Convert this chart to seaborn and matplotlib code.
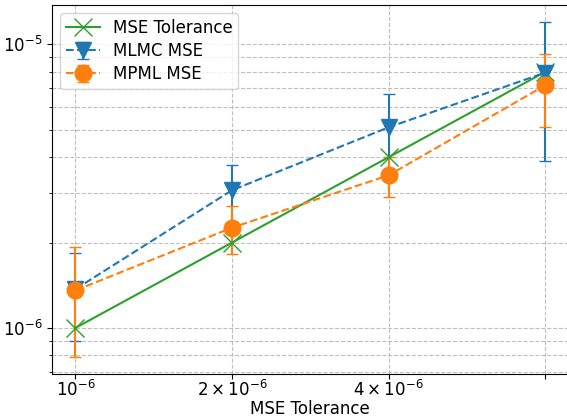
import matplotlib
matplotlib.use("Agg")
import matplotlib.pyplot as plt
import seaborn as sns
import numpy as np
from matplotlib.ticker import NullLocator

# Data
tolerance = [1e-6, 2e-6, 4e-6, 8e-6]
mse_tolerance = [1e-6, 2e-6, 4e-6, 8e-6]
mlmc_mse = [1.37e-6, 3.06e-6, 5.10e-6, 7.95e-6]
mlmc_err = [0.47e-6, 0.71e-6, 1.61e-6, 4.07e-6]
mpml_mse = [1.356e-6, 2.257e-6, 3.455e-6, 7.17e-6]
mpml_err = [0.568e-6, 0.439e-6, 0.555e-6, 2.05e-6]

plt.rcParams['font.size'] = 12
plt.rcParams['font.family'] = ['DejaVu Sans']

fig = plt.figure(figsize=(5.67, 4.19), dpi=100)
W, H = 567, 419
ax = fig.add_axes([52 / W, (H - 374) / H, (568.6 - 52) / W, (374 - 5) / H])

blue = sns.color_palette("tab10")[0]
orange = sns.color_palette("tab10")[1]
green = sns.color_palette("tab10")[2]

ax.errorbar(tolerance, mlmc_mse, yerr=mlmc_err, fmt='v--', color=blue,
            markersize=12, capsize=4, label='MLMC MSE')
ax.errorbar(tolerance, mpml_mse, yerr=mpml_err, fmt='o--', color=orange,
            markersize=12, capsize=4, label='MPML MSE')
sns.lineplot(x=tolerance, y=mse_tolerance, marker='x', markersize=13,
             markeredgewidth=1.0, color=green, label='MSE Tolerance', ax=ax,
             markeredgecolor=green)

ax.set_xscale('log')
ax.set_yscale('log')
ax.set_xticks(tolerance)
ax.xaxis.set_minor_locator(NullLocator())
ax.grid(True, which='both', linestyle='--', color='#b0b0b0', alpha=0.8, linewidth=0.8)
ax.tick_params(axis='x', which='major', pad=1)
ax.set_xlabel('MSE Tolerance', labelpad=0)
ax.legend(loc='upper left', labelspacing=0.3, borderpad=0.35)

fig.savefig('out.png', dpi=100)
